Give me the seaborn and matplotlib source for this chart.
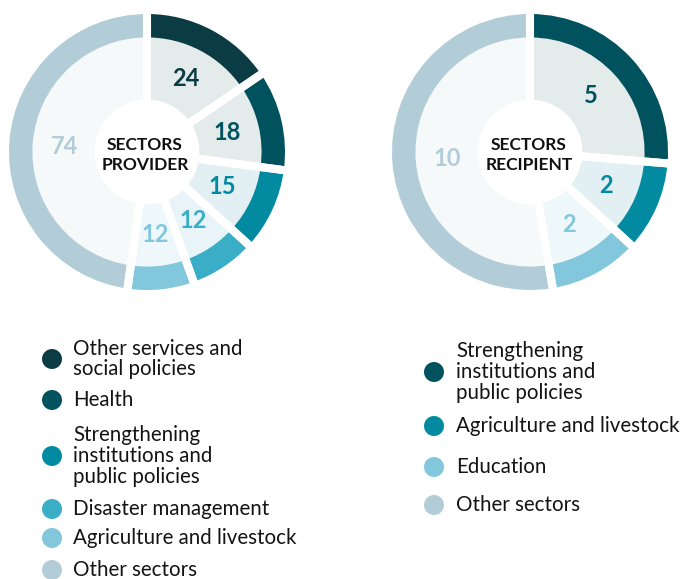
import matplotlib
matplotlib.use("Agg")
import matplotlib.pyplot as plt
import seaborn as sns
import numpy as np

# ---- data ----
provider_labels = ["Other services and\nsocial policies", "Health",
                   "Strengthening\ninstitutions and\npublic policies",
                   "Disaster management", "Agriculture and livestock", "Other sectors"]
provider_values = [24, 18, 15, 12, 12, 74]
provider_ring = ["#0b3c44", "#01525f", "#018aa0", "#3aaec6", "#82c7db", "#b3cdd8"]
provider_fill = ["#e4ebeb", "#e4ebeb", "#e2f0f4", "#e8f4f7", "#eef7fa", "#f5f9fa"]

recipient_labels = ["Strengthening\ninstitutions and\npublic policies",
                    "Agriculture and livestock", "Education", "Other sectors"]
recipient_values = [5, 2, 2, 10]
recipient_ring = ["#01525f", "#018aa0", "#82c7db", "#b3cdd8"]
recipient_fill = ["#e4ebeb", "#e2f0f4", "#eef7fa", "#f5f9fa"]

W, H = 684, 579

sns.set_theme(style="white")
plt.rcParams['font.family'] = ['Lato', 'DejaVu Sans']

fig = plt.figure(figsize=(W / 100, H / 100), dpi=100)
ax = fig.add_axes([0, 0, 1, 1])


def donut(ax, values, ring, fill, cx, cy, title, tx, ty):
    R = 138
    r_ring = 0.83 * R
    r_hole = 0.38 * R
    c = (cx, H - cy)
    ax.pie(values, radius=r_ring, center=c, startangle=90, counterclock=False,
           colors=fill, wedgeprops=dict(width=r_ring - r_hole, linewidth=0))
    wedges, _ = ax.pie(values, radius=R, center=c, startangle=90, counterclock=False,
                       colors=ring, wedgeprops=dict(width=R - r_ring, linewidth=0))
    # white gaps between slices
    ax.pie(values, radius=R + 15, center=c, startangle=90, counterclock=False,
           wedgeprops=dict(width=R - 25, facecolor="none", edgecolor="white",
                           linewidth=5.8))
    for w, v, col in zip(wedges, values, ring):
        mid = np.deg2rad((w.theta1 + w.theta2) / 2)
        rr = 0.6 * R
        ax.text(c[0] + rr * np.cos(mid), c[1] + rr * np.sin(mid), str(v),
                ha="center", va="center", fontsize=17, fontweight="bold", color=col)
    ax.text(tx, H - ty, title, ha="center", va="center", fontsize=12.5,
            fontweight="bold", color="#111111", linespacing=1.25)


donut(ax, provider_values, provider_ring, provider_fill, 147, 152,
      "SECTORS\nPROVIDER", 145, 155)
donut(ax, recipient_values, recipient_ring, recipient_fill, 530, 152,
      "SECTORS\nRECIPIENT", 529, 155)


def legend(ax, labels, colors, dot_x, text_x, ys):
    sns.scatterplot(x=[dot_x] * len(ys), y=[H - y for y in ys], hue=labels,
                    palette=colors, s=207, linewidth=0, legend=False, ax=ax)
    for lab, y in zip(labels, ys):
        ax.text(text_x, H - y, lab, ha="left", va="center", fontsize=14.8,
                color="#141414", linespacing=1.05)


legend(ax, provider_labels, provider_ring, 52, 73, [359, 400, 456, 509, 538, 570])
legend(ax, recipient_labels, recipient_ring, 434, 456, [372, 426, 467, 505])

ax.set_xlim(0, W)
ax.set_ylim(0, H)
ax.set_aspect("auto")
ax.axis("off")

fig.savefig("out.png", dpi=100)
